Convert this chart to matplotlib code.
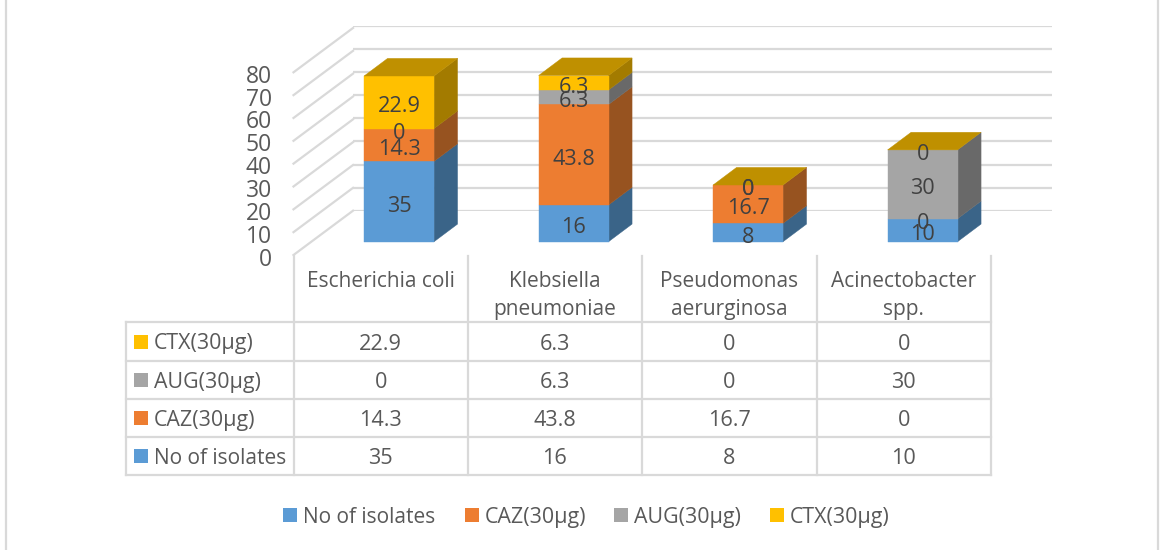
import matplotlib
matplotlib.use("Agg")
import matplotlib.pyplot as plt
from matplotlib.patches import Polygon, Rectangle
from matplotlib.transforms import ScaledTranslation

plt.rcParams['font.family'] = ['Open Sans', 'DejaVu Sans']

categories = ["Escherichia coli", "Klebsiella\npneumoniae", "Pseudomonas\naerurginosa", "Acinectobacter\nspp."]
series_names = ["No of isolates", "CAZ(30µg)", "AUG(30µg)", "CTX(30µg)"]
no_of_isolates = [35, 16, 8, 10]
caz = [14.3, 43.8, 16.7, 0]
aug = [0, 6.3, 0, 30]
ctx = [22.9, 6.3, 0, 0]
y_ticks = [0, 10, 20, 30, 40, 50, 60, 70, 80]

series_values = [no_of_isolates, caz, aug, ctx]
front_colors = ["#5B9BD5", "#ED7D31", "#A5A5A5", "#FFC000"]
side_colors = ["#3A6488", "#975320", "#696969", "#A37B00"]
top_color = "#BF9000"
grid_c = "#D9D9D9"
text_c = "#595959"
label_c = "#404040"
FS = 15
FS_NUM = 15.6
FS_TICK = 16.5

W, H = 1160, 550
fig = plt.figure(figsize=(W / 100, H / 100), dpi=100, facecolor="white")


def px_axes(x0, x1, ytop, ybottom):
    return fig.add_axes([x0 / W, 1 - ybottom / H, (x1 - x0) / W, (ybottom - ytop) / H])


# full-figure layer for frame, table and legend
page = fig.add_axes([0, 0, 1, 1], zorder=0)
page.set_xlim(0, W)
page.set_ylim(H, 0)
page.axis("off")
page.plot([6, 6], [0, 550], color=grid_c, lw=1.6)
page.plot([1158, 1158], [0, 550], color=grid_c, lw=1.6)

# back wall gridlines
wall = px_axes(353, 1052, 26, 210.7)
wall.set_zorder(1)
wall.set_ylim(0, 80)
wall.set_xlim(0, 4)
wall.patch.set_alpha(0)
for s in wall.spines.values():
    s.set_visible(False)
wall.set_xticks([])
wall.set_yticks(y_ticks)
wall.tick_params(left=False, labelleft=False)
wall.grid(axis="y", color=grid_c, lw=1.6)

# value axis (front-left edge) with its tick labels and side-wall diagonals
vax = px_axes(293.5, 353, 72.3, 255)
vax.set_zorder(1)
vax.set_ylim(0, 80)
vax.set_xlim(0, 1)
vax.patch.set_alpha(0)
for s in vax.spines.values():
    s.set_visible(False)
vax.set_xticks([])
vax.set_yticks(y_ticks)
vax.tick_params(left=False, labelsize=FS_TICK, labelcolor=text_c, pad=12)
shift_down = ScaledTranslation(0, -1.5 / 100, fig.dpi_scale_trans)
for lab in vax.get_yticklabels():
    lab.set_transform(lab.get_transform() + shift_down)
rise = 44.3 / (182.7 / 80)
for v in y_ticks:
    vax.plot([0, 1], [v, v + rise], color=grid_c, lw=1.6, clip_on=False)

# bars
ax = px_axes(293.5, 991.5, 241.7 - 80 * 2.295, 241.7)
ax.set_zorder(2)
ax.set_xlim(0, 4)
ax.set_ylim(0, 80)
ax.axis("off")
bar_w = 0.401
dx = 23.5 / 174.5
dy = 17.6 / 2.295
for i in range(len(categories)):
    x0 = i + 0.5 + 0.105 - bar_w / 2
    x1 = x0 + bar_w
    base = 0
    for values, fc, sc in zip(series_values, front_colors, side_colors):
        v = values[i]
        if v > 0:
            ax.add_patch(Polygon([(x1, base), (x1 + dx, base + dy), (x1 + dx, base + v + dy), (x1, base + v)],
                                 closed=True, fc=sc, ec=sc, lw=0.3, clip_on=False, zorder=2))
            ax.add_patch(Rectangle((x0, base), bar_w, v, fc=fc, ec=fc, lw=0.3, clip_on=False, zorder=3))
        base += v
    ax.add_patch(Polygon([(x0, base), (x1, base), (x1 + dx, base + dy), (x0 + dx, base + dy)],
                         closed=True, fc=top_color, ec=top_color, lw=0.3, clip_on=False, zorder=3))
    base = 0
    for values in series_values:
        v = values[i]
        ax.annotate(f"{v:g}", xy=((x0 + x1) / 2, base + v / 2), xytext=(0, -1.5), textcoords="offset points",
                    ha="center", va="center_baseline", fontsize=FS_NUM, color=label_c, zorder=5,
                    annotation_clip=False)
        base += v

# data table
col_x = [293.5, 467.7, 642, 816.8, 990.8]
row_y = [322.3, 360.7, 399, 437, 475]
for x in col_x:
    page.plot([x, x], [256, 475], color=grid_c, lw=1.6)
page.plot([126, 126], [322.3, 475], color=grid_c, lw=1.6)
for y in row_y:
    page.plot([126, 990.8], [y, y], color=grid_c, lw=1.6)

for j, cat in enumerate(categories):
    page.text((col_x[j] + col_x[j + 1]) / 2, 271, cat, ha="center", va="top",
              fontsize=FS, color=text_c, linespacing=1.45)

name_fs = [15, 15.4, 15.4, 15.4]
for r, k in enumerate([3, 2, 1, 0]):
    yc = (row_y[r] + row_y[r + 1]) / 2
    page.add_patch(Rectangle((134, yc - 7), 14, 14, fc=front_colors[k], ec="none"))
    page.text(154, yc, series_names[k], ha="left", va="center_baseline", fontsize=name_fs[k], color=text_c)
    for j in range(len(categories)):
        page.text((col_x[j] + col_x[j + 1]) / 2, yc, f"{series_values[k][j]:g}", ha="center",
                  va="center_baseline", fontsize=FS_NUM, color=text_c)

# legend
legend_sq_x = [283, 465, 614, 770]
for x, name, c, fs in zip(legend_sq_x, series_names, front_colors, name_fs):
    page.add_patch(Rectangle((x, 508), 14, 14, fc=c, ec="none"))
    page.text(x + 20, 515, name, ha="left", va="center_baseline", fontsize=fs, color=text_c)

fig.savefig("out.png", dpi=100, facecolor="white")
